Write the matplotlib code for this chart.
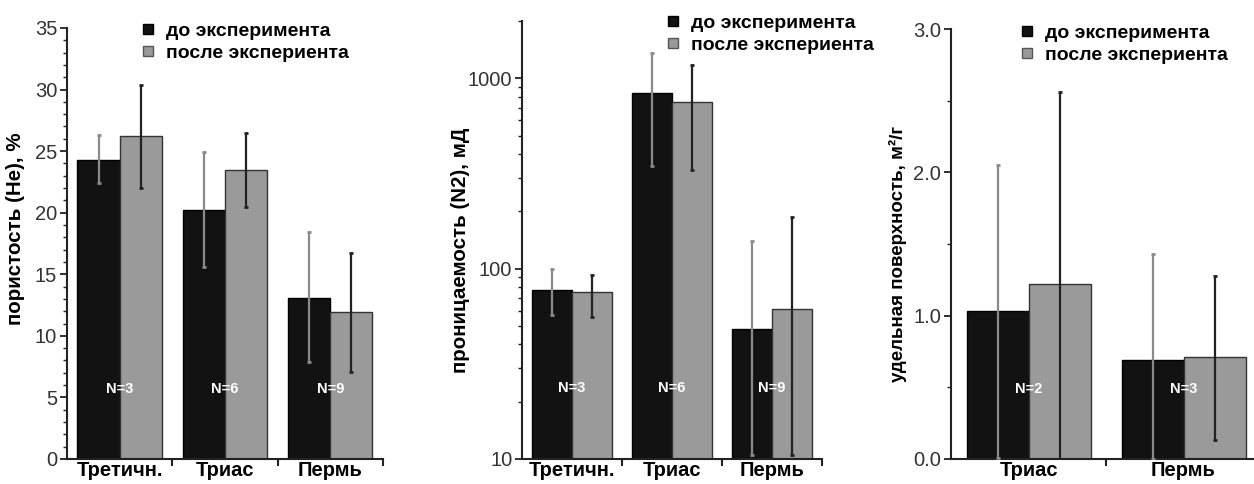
import numpy as np
import matplotlib.pyplot as plt
from matplotlib.lines import Line2D
from matplotlib.ticker import FixedLocator, NullFormatter, MultipleLocator, LogLocator

plt.rcParams['font.family'] = ['Liberation Sans', 'DejaVu Sans']

# Data
groups3 = ['Третичн.', 'Триас', 'Пермь']
groups2 = ['Триас', 'Пермь']
n_por = ['N=3', 'N=6', 'N=9']
n_surf = ['N=2', 'N=3']
legend_labels = ['до эксперимента', 'после экспериента']

# porosity (He), %
por_before = [24.3, 20.2, 13.1]
por_before_lo = [22.4, 15.6, 7.9]
por_before_hi = [26.3, 24.9, 18.4]
por_after = [26.2, 23.5, 11.9]
por_after_lo = [22.0, 20.5, 7.1]
por_after_hi = [30.4, 26.5, 16.7]

# permeability (N2), mD
perm_before = [77, 834, 48]
perm_before_lo = [57, 344, 10.5]
perm_before_hi = [100, 1350, 140]
perm_after = [75, 748, 61.5]
perm_after_lo = [56, 328, 10.5]
perm_after_hi = [93, 1170, 186]

# specific surface, m2/g
surf_before = [1.03, 0.69]
surf_before_lo = [0.01, 0.0]
surf_before_hi = [2.05, 1.43]
surf_after = [1.22, 0.71]
surf_after_lo = [0.0, 0.13]
surf_after_hi = [2.56, 1.28]

black = '#121212'
gray = '#9a9a9a'
axc = '#222222'

fig = plt.figure(figsize=(12.54, 4.84), dpi=100)
ax1 = fig.add_axes([0.0534, 0.0517, 0.252, 0.8905])
ax2 = fig.add_axes([0.4163, 0.0517, 0.2392, 0.905])
ax3 = fig.add_axes([0.7584, 0.0517, 0.2472, 0.888])


def errs(v, lo, hi):
    v = np.array(v, dtype=float)
    return [v - np.array(lo), np.array(hi) - v]


def draw(ax, names, before, b_lo, b_hi, after, a_lo, a_hi, nlab):
    x = np.arange(1, len(names) + 1)
    w = 0.4
    ax.bar(x - w / 2, before, w, color=black, edgecolor='#000000', linewidth=1, zorder=2)
    ax.bar(x + w / 2, after, w, color=gray, edgecolor='#333333', linewidth=1, zorder=2)
    ax.errorbar(x - w / 2, before, yerr=errs(before, b_lo, b_hi), fmt='none',
                ecolor='#8a8a8a', elinewidth=1.6, capsize=1.5, capthick=2, zorder=3)
    ax.errorbar(x + w / 2, after, yerr=errs(after, a_lo, a_hi), fmt='none',
                ecolor='#222222', elinewidth=1.6, capsize=1.5, capthick=2, zorder=3)
    for xi, t in zip(x, nlab):
        ax.text(xi, 0.163, t, transform=ax.get_xaxis_transform(), color='white',
                fontsize=10.5, fontweight='bold', ha='center', va='center', zorder=4)
    ax.set_xlim(0.5, len(names) + 0.5)
    ax.xaxis.set_major_locator(FixedLocator(np.arange(1.5, len(names) + 0.6, 1.0)))
    ax.xaxis.set_major_formatter(NullFormatter())
    ax.xaxis.set_minor_locator(FixedLocator(x))
    ax.set_xticklabels(names, minor=True, fontsize=14.5, fontweight='bold')
    ax.tick_params(axis='x', which='major', length=5, width=1.5, color=axc, direction='out')
    ax.tick_params(axis='x', which='minor', length=0, pad=1.5)
    ax.tick_params(axis='y', which='major', length=5, width=1.3, color=axc,
                   labelsize=14.5, labelcolor='#333333', pad=2)
    ax.tick_params(axis='y', which='minor', length=3, width=1.0, color=axc)
    for s in ['top', 'right']:
        ax.spines[s].set_visible(False)
    for s in ['left', 'bottom']:
        ax.spines[s].set_color(axc)
        ax.spines[s].set_linewidth(1.5)


def add_legend(ax, x, y):
    handles = [Line2D([], [], ls='none', marker='s', markersize=7, markerfacecolor=black,
                      markeredgecolor='#000000'),
               Line2D([], [], ls='none', marker='s', markersize=7, markerfacecolor=gray,
                      markeredgecolor='#555555')]
    ax.legend(handles, legend_labels, loc='upper left', bbox_to_anchor=(x / 1254, 1 - y / 484),
              bbox_transform=fig.transFigure, frameon=False, borderpad=0, borderaxespad=0,
              handlelength=0.7, handletextpad=0.6, labelspacing=0.25,
              prop={'weight': 'bold', 'size': 14})


# panel 1: porosity
draw(ax1, groups3, por_before, por_before_lo, por_before_hi,
     por_after, por_after_lo, por_after_hi, n_por)
ax1.set_ylim(0, 35)
ax1.yaxis.set_major_locator(MultipleLocator(5))
ax1.yaxis.set_minor_locator(MultipleLocator(1))
ax1.set_ylabel('пористость (He), %', fontsize=14.8, fontweight='bold')
ax1.yaxis.set_label_coords(-0.133, 0.534)
add_legend(ax1, 141, 22)

# panel 2: permeability
draw(ax2, groups3, perm_before, perm_before_lo, perm_before_hi,
     perm_after, perm_after_lo, perm_after_hi, n_por)
ax2.set_yscale('log')
ax2.set_ylim(10, 2000)
ax2.yaxis.set_major_locator(FixedLocator([10, 100, 1000]))
ax2.yaxis.set_major_formatter(plt.FuncFormatter(lambda v, p: '%d' % v))
ax2.yaxis.set_minor_locator(LogLocator(base=10, subs=np.arange(2, 10)))
ax2.yaxis.set_minor_formatter(NullFormatter())
ax2.set_ylabel('проницаемость (N2), мД', fontsize=14.8, fontweight='bold')
ax2.yaxis.set_label_coords(-0.173, 0.477)
add_legend(ax2, 666, 14)

# panel 3: specific surface
draw(ax3, groups2, surf_before, surf_before_lo, surf_before_hi,
     surf_after, surf_after_lo, surf_after_hi, n_surf)
ax3.set_ylim(0, 3)
ax3.yaxis.set_major_locator(MultipleLocator(1))
ax3.yaxis.set_minor_locator(MultipleLocator(0.5))
ax3.yaxis.set_major_formatter(plt.FuncFormatter(lambda v, p: '%.1f' % v))
ax3.set_ylabel('удельная поверхность, м²/г', fontsize=13.5, fontweight='bold')
ax3.yaxis.set_label_coords(-0.142, 0.477)
add_legend(ax3, 1020, 24)

fig.savefig('out.png', dpi=100)
